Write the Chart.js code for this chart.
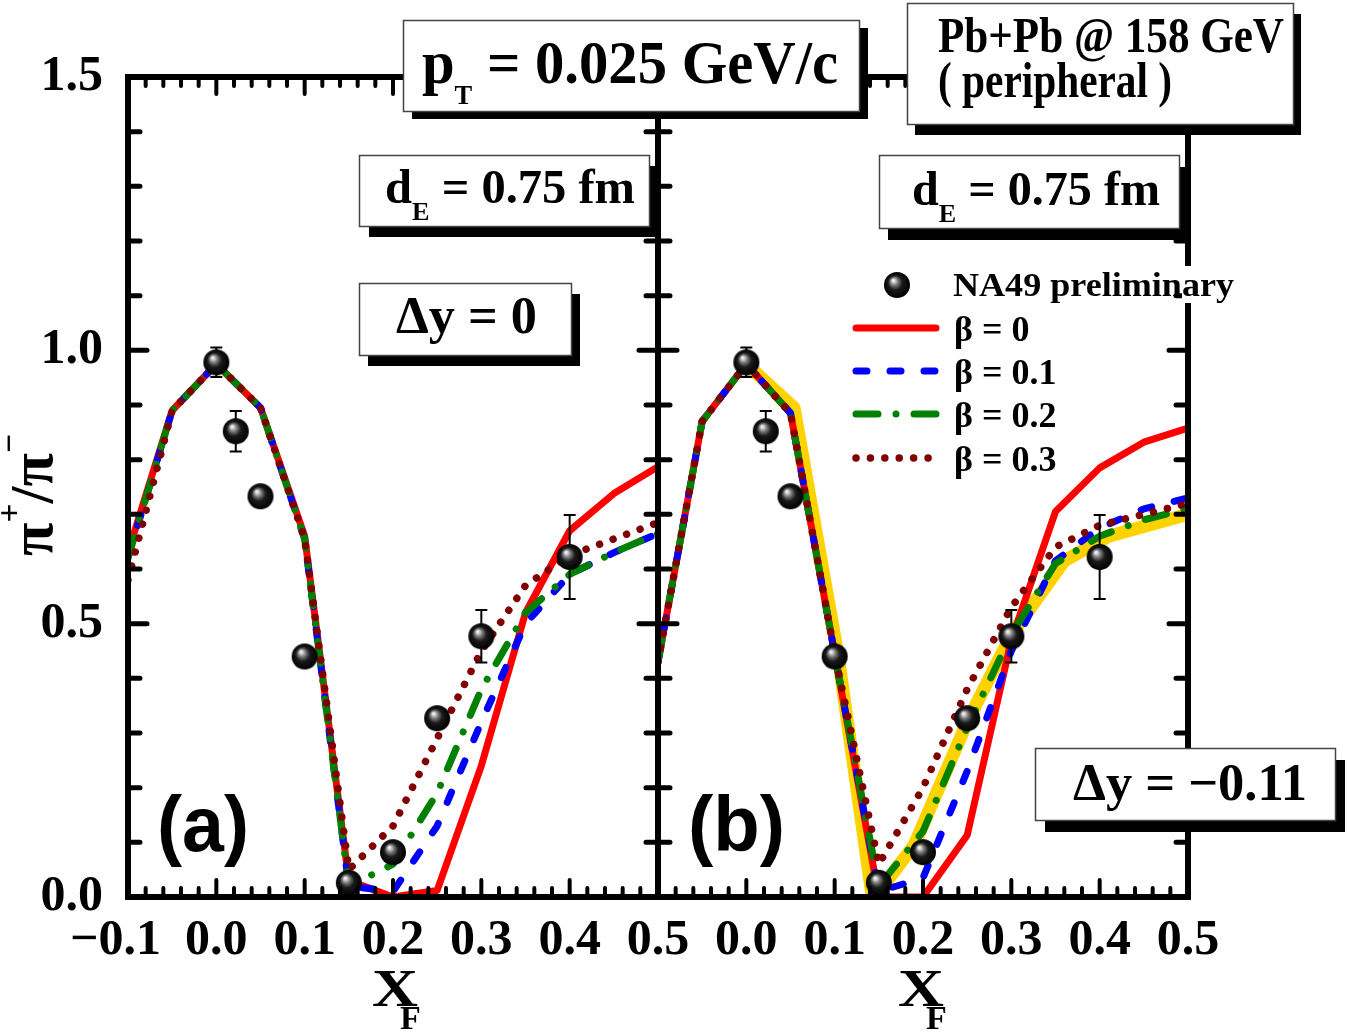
<!DOCTYPE html>
<html>
<head>
<meta charset="utf-8">
<script src="https://cdn.jsdelivr.net/npm/chart.js@4.4.0/dist/chart.umd.min.js"></script>
<style>
  body { margin: 0; background: #fff; }
  #wrap { position: relative; width: 1348px; height: 1034px; background: #fff; }
  #wrap canvas { position: absolute; left: 0; top: 0; }
</style>
</head>
<body>
<div id="wrap">
  <canvas id="chartA" width="1348" height="1034"></canvas>
  <canvas id="chartB" width="1348" height="1034"></canvas>
</div>
<script>
// x_F nodes of the model curves
const xNodes = [-0.1, -0.05, 0, 0.05, 0.1, 0.15, 0.2, 0.25, 0.3, 0.35, 0.4, 0.45, 0.5];

// panel (a), dy = 0
const redA   = [0.63, 0.89, 0.975, 0.895, 0.66, 0.03, 0.0, 0.012, 0.24, 0.52, 0.67, 0.738, 0.787];
const blueA  = [0.62, 0.89, 0.975, 0.895, 0.655, 0.02, 0.01, 0.13, 0.32, 0.50, 0.59, 0.63, 0.665];
const greenA = [0.62, 0.89, 0.975, 0.895, 0.655, 0.02, 0.06, 0.19, 0.38, 0.52, 0.59, 0.63, 0.665];
const dotA   = [0.58, 0.89, 0.975, 0.895, 0.655, 0.05, 0.13, 0.29, 0.45, 0.57, 0.625, 0.655, 0.685];

// panel (b), dy = -0.11
const redB   = [0.43, 0.87, 0.975, 0.885, 0.445, 0.0, 0.0, 0.113, 0.47, 0.705, 0.785, 0.832, 0.858];
const blueB  = [0.43, 0.87, 0.975, 0.885, 0.445, 0.01, 0.035, 0.23, 0.45, 0.615, 0.675, 0.71, 0.73];
const greenB = [0.43, 0.87, 0.975, 0.885, 0.445, 0.02, 0.12, 0.31, 0.48, 0.61, 0.66, 0.69, 0.71];
const dotB   = [0.43, 0.87, 0.975, 0.885, 0.445, 0.06, 0.2, 0.38, 0.53, 0.64, 0.68, 0.70, 0.72];

// yellow band in panel (b)
const bandX = [0, 0.054, 0.104, 0.143, 0.19, 0.25, 0.3, 0.36, 0.41, 0.5];
const bandY = [0.975, 0.895, 0.44, -0.005, 0.095, 0.32, 0.48, 0.615, 0.66, 0.70];

// NA49 preliminary
const na49X   = [0.0, 0.022, 0.05, 0.1, 0.15, 0.2, 0.25, 0.3, 0.4];
const na49Y   = [0.978, 0.852, 0.733, 0.44, 0.026, 0.082, 0.327, 0.477, 0.622];
const na49Err = [0.027, 0.037, 0.01, 0.01, 0.008, 0.01, 0.01, 0.048, 0.077];

// ticks
const xTickValues = [-0.1, 0, 0.1, 0.2, 0.3, 0.4, 0.5];
const yTickValues = [0, 0.5, 1.0, 1.5];

const SERIF = "'Liberation Serif', 'Times New Roman', serif";
const SANS = "'Liberation Sans', Arial, sans-serif";

const styles = {
    red:   { borderColor: '#ff0000', borderWidth: 7, borderJoinStyle: 'round', borderCapStyle: 'round' },
    blue:  { borderColor: '#0000ff', borderWidth: 7, borderDash: [11, 23], borderCapStyle: 'round', borderJoinStyle: 'round' },
    green: { borderColor: '#008000', borderWidth: 7, borderDash: [22, 18, 0.01, 18], borderCapStyle: 'round', borderJoinStyle: 'round' },
    dot:   { borderColor: '#800000', borderWidth: 7.5, borderDash: [0.01, 14.4], borderCapStyle: 'round' },
    band:  { borderColor: '#ffd200', borderWidth: 13, borderJoinStyle: 'round', borderCapStyle: 'butt' }
};

// shaded sphere used as data marker
function makeSphere(r) {
    const c = document.createElement('canvas');
    c.width = c.height = 2 * r + 2;
    const g = c.getContext('2d');
    const cx = r + 1;
    const grad = g.createRadialGradient(cx - 4, cx - 5, 0, cx, cx, r);
    grad.addColorStop(0, '#ffffff');
    grad.addColorStop(0.12, '#d8d8d8');
    grad.addColorStop(0.3, '#7a7a7a');
    grad.addColorStop(0.55, '#1a1a1a');
    grad.addColorStop(1, '#000000');
    g.fillStyle = grad;
    g.beginPath();
    g.arc(cx, cx, r, 0, Math.PI * 2);
    g.fill();
    return c;
}
const sphere = makeSphere(13);

function lineSet(label, xs, ys, style, order) {
    return Object.assign({
        label: label,
        data: xs.map((x, i) => ({ x: x, y: ys[i] })),
        pointRadius: 0,
        fill: false,
        tension: 0,
        order: order
    }, style);
}

function pointSet() {
    return {
        label: 'NA49 preliminary',
        data: na49X.map((x, i) => ({ x: x, y: na49Y[i] })),
        showLine: false,
        pointStyle: sphere,
        pointRadius: 13,
        order: 0
    };
}

function font(size, family, weight) {
    return (weight || 'bold') + ' ' + size + 'px ' + (family || SERIF);
}

// text made of pieces (sub/superscripts), squeezed to a target width
function rich(ctx, parts, x, baseline, width, family) {
    let total = 0;
    parts.forEach(p => { ctx.font = font(p[1], family); total += ctx.measureText(p[0]).width; });
    const sx = width ? width / total : 1;
    ctx.save();
    ctx.translate(x, baseline);
    ctx.scale(sx, 1);
    ctx.fillStyle = '#000';
    ctx.textAlign = 'left';
    ctx.textBaseline = 'alphabetic';
    let cx = 0;
    parts.forEach(p => {
        ctx.font = font(p[1], family);
        ctx.fillText(p[0], cx, p[2] || 0);
        cx += ctx.measureText(p[0]).width;
    });
    ctx.restore();
}

function box(ctx, x1, y1, x2, y2, dx, dy) {
    ctx.save();
    ctx.fillStyle = '#000';
    ctx.fillRect(x1 + dx, y1 + dy, x2 - x1, y2 - y1);
    ctx.fillStyle = '#fff';
    ctx.fillRect(x1, y1, x2 - x1, y2 - y1);
    ctx.strokeStyle = '#444';
    ctx.lineWidth = 1.5;
    ctx.strokeRect(x1 + 0.5, y1 + 0.5, x2 - x1, y2 - y1);
    ctx.restore();
}

// frame with inward ticks
function drawFrame(chart) {
    const ctx = chart.ctx;
    const a = chart.chartArea;
    const x = chart.scales.x, y = chart.scales.y;
    ctx.save();
    ctx.strokeStyle = '#000';
    ctx.lineCap = 'round';
    ctx.lineWidth = 4;
    ctx.beginPath();
    for (let k = 0; k <= 30; k++) {
        const px = x.getPixelForValue(-0.1 + k * 0.02);
        const len = (k % 5 === 0) ? 17 : 9;
        ctx.moveTo(px, a.top); ctx.lineTo(px, a.top + len);
        ctx.moveTo(px, a.bottom); ctx.lineTo(px, a.bottom - len);
    }
    ctx.stroke();
    ctx.lineWidth = 5;
    ctx.beginPath();
    for (let k = 0; k <= 15; k++) {
        const py = y.getPixelForValue(k * 0.1);
        const len = (k % 5 === 0) ? 19 : 12;
        ctx.moveTo(a.left, py); ctx.lineTo(a.left + len, py);
        ctx.moveTo(a.right, py); ctx.lineTo(a.right - len, py);
    }
    ctx.stroke();
    ctx.lineWidth = 6;
    ctx.lineCap = 'square';
    ctx.strokeRect(a.left, a.top, a.right - a.left, a.bottom - a.top);
    ctx.restore();
}

function drawErrors(chart) {
    const ctx = chart.ctx;
    const x = chart.scales.x, y = chart.scales.y;
    ctx.save();
    ctx.strokeStyle = '#000';
    ctx.lineWidth = 2;
    ctx.beginPath();
    na49X.forEach((v, i) => {
        const px = x.getPixelForValue(v);
        const top = y.getPixelForValue(na49Y[i] + na49Err[i]);
        const bot = y.getPixelForValue(na49Y[i] - na49Err[i]);
        ctx.moveTo(px, top); ctx.lineTo(px, bot);
        ctx.moveTo(px - 6, top); ctx.lineTo(px + 6, top);
        ctx.moveTo(px - 6, bot); ctx.lineTo(px + 6, bot);
    });
    ctx.stroke();
    ctx.restore();
}

function xTitle(ctx, x) {
    rich(ctx, [['X', 52]], x, 1006, 46);
    rich(ctx, [['F', 34]], x + 28, 1029);
}

function drawLegend(ctx) {
    // text background breaks the right frame line, as in the original
    ctx.fillStyle = '#fff';
    ctx.fillRect(1182, 266, 12, 37);
    ctx.drawImage(sphere, 897 - 14, 285 - 14);
    rich(ctx, [['NA49 preliminary', 34]], 953, 296, 281);
    const rows = [
        [styles.red, 'β = 0', 328],
        [styles.blue, 'β = 0.1', 371],
        [styles.green, 'β = 0.2', 414],
        [styles.dot, 'β = 0.3', 458]
    ];
    rows.forEach(r => {
        const s = r[0];
        ctx.save();
        ctx.strokeStyle = s.borderColor;
        ctx.lineWidth = s.borderWidth;
        ctx.lineCap = s.borderCapStyle || 'butt';
        ctx.setLineDash(s.borderDash || []);
        ctx.beginPath();
        ctx.moveTo(856, r[2]);
        ctx.lineTo(s === styles.dot ? 934 : 936, r[2]);
        ctx.stroke();
        ctx.restore();
        rich(ctx, [[r[1], 36]], 954, r[2] + 13);
    });
}

function decorA(chart) {
    const ctx = chart.ctx;
    box(ctx, 359, 155, 649, 226, 10, 11);
    rich(ctx, [['d', 48], ['E', 26, 17], [' = 0.75 fm', 48]], 385, 203, 250);
    box(ctx, 359, 283, 571, 355, 9, 11);
    rich(ctx, [['Δy = 0', 52]], 396, 333, 141);
    rich(ctx, [['(a)', 78]], 157, 851, 92, SANS);
    // y title
    ctx.save();
    ctx.translate(52, 556);
    ctx.rotate(-Math.PI / 2);
    rich(ctx, [['π', 62], ['+', 34, -32], ['/', 62], ['π', 62], ['−', 34, -32]], 0, 0, 122);
    ctx.restore();
    xTitle(ctx, 372);
}

function decorB(chart) {
    const ctx = chart.ctx;
    box(ctx, 403, 20, 859, 111, 9, 8);
    rich(ctx, [['p', 62], ['T', 28, 21], [' = 0.025 GeV/c', 62]], 422, 83, 416);
    box(ctx, 907, 3, 1293, 124, 8, 11);
    rich(ctx, [['Pb+Pb @ 158 GeV', 50]], 938, 52, 346);
    rich(ctx, [['( peripheral )', 50]], 938, 97, 234);
    box(ctx, 879, 155, 1179, 228, 9, 12);
    rich(ctx, [['d', 48], ['E', 26, 17], [' = 0.75 fm', 48]], 912, 205, 248);
    box(ctx, 1035, 748, 1335, 820, 10, 12);
    rich(ctx, [['Δy = −0.11', 52]], 1073, 800, 234);
    rich(ctx, [['(b)', 78]], 688, 851, 97, SANS);
    drawLegend(ctx);
    xTitle(ctx, 898);
}

function buildOptions(panel) {
    const tickFont = { family: SERIF, size: 50, weight: 'bold' };
    return {
        responsive: false,
        animation: false,
        events: [],
        layout: {
            padding: panel === 'a'
                ? { left: 0, right: 690, top: 77, bottom: 0 }
                : { left: 658, right: 160, top: 77, bottom: 0 }
        },
        plugins: { legend: { display: false }, tooltip: { enabled: false } },
        scales: {
            x: {
                type: 'linear', min: -0.1, max: 0.5,
                afterBuildTicks: s => { s.ticks = xTickValues.map(v => ({ value: v })); },
                afterFit: s => { s.height = 137; },
                grid: { display: false, drawTicks: false },
                border: { display: false },
                ticks: {
                    font: tickFont, color: '#000', padding: 14, maxRotation: 0, autoSkip: false,
                    callback: v => {
                        if (v < -0.05) return panel === 'a' ? '\u22120.1\u2002' : '';
                        return Math.abs(v).toFixed(1);
                    }
                }
            },
            y: {
                type: 'linear', min: 0, max: 1.5,
                display: panel === 'a',
                afterBuildTicks: s => { s.ticks = yTickValues.map(v => ({ value: v })); },
                afterFit: s => { s.width = panel === 'a' ? 128 : 0; },
                grid: { display: false, drawTicks: false },
                border: { display: false },
                ticks: { font: tickFont, color: '#000', padding: 25, callback: v => v.toFixed(1) }
            }
        }
    };
}

const panelPlugin = {
    id: 'panelDecor',
    beforeDatasetDraw(chart, args) {
        if (args.meta.label === 'NA49 preliminary') drawErrors(chart);
    },
    afterDatasetsDraw(chart) { drawFrame(chart); }
};

new Chart(document.getElementById('chartA'), {
    type: 'line',
    data: {
        datasets: [
            pointSet(),
            lineSet('β = 0.3', xNodes, dotA, styles.dot, 1),
            lineSet('β = 0.2', xNodes, greenA, styles.green, 2),
            lineSet('β = 0.1', xNodes, blueA, styles.blue, 3),
            lineSet('β = 0', xNodes, redA, styles.red, 4)
        ]
    },
    options: buildOptions('a'),
    plugins: [panelPlugin, { id: 'decorA', afterDraw: decorA }]
});

new Chart(document.getElementById('chartB'), {
    type: 'line',
    data: {
        datasets: [
            pointSet(),
            lineSet('β = 0.3', xNodes, dotB, styles.dot, 1),
            lineSet('β = 0.2', xNodes, greenB, styles.green, 2),
            lineSet('β = 0.1', xNodes, blueB, styles.blue, 3),
            lineSet('β = 0', xNodes, redB, styles.red, 4),
            lineSet('band', bandX, bandY, styles.band, 5)
        ]
    },
    options: buildOptions('b'),
    plugins: [panelPlugin, { id: 'decorB', afterDraw: decorB }]
});
</script>
</body>
</html>
